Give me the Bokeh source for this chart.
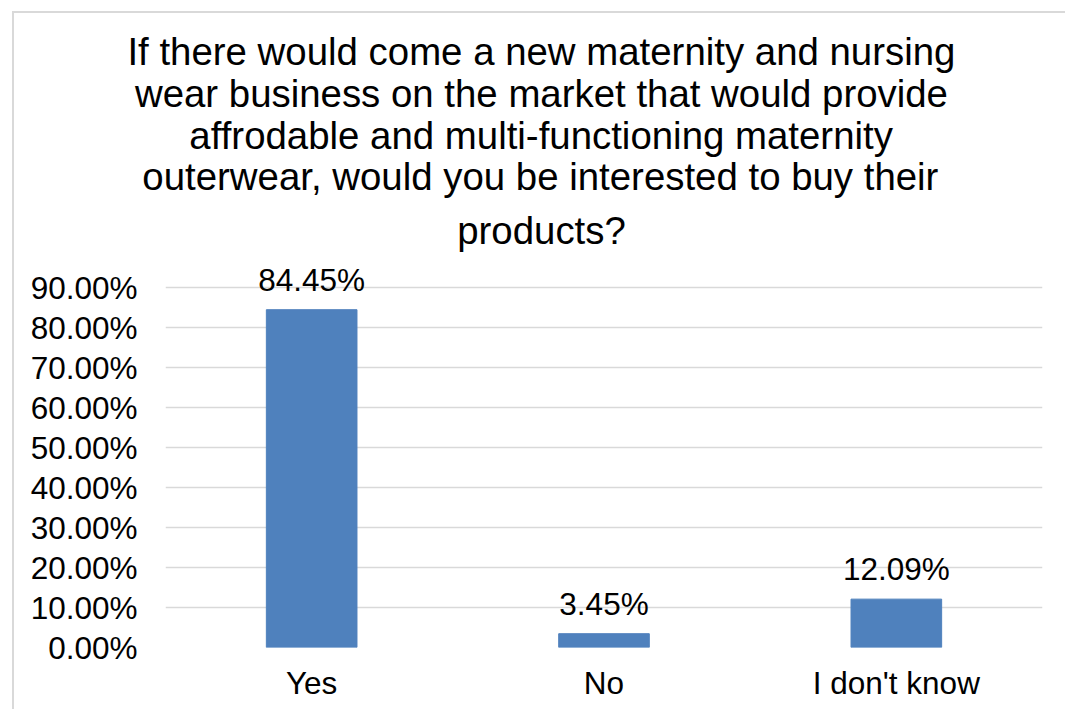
from bokeh.plotting import figure
from bokeh.models import ColumnDataSource, FactorRange, Range1d, FixedTicker, NumeralTickFormatter, Label, Title
from bokeh.embed import file_html
from bokeh.resources import INLINE

categories = ["Yes", "No", "I don't know"]
values = [0.8445, 0.0345, 0.1209]
labels = ["84.45%", "3.45%", "12.09%"]
y_ticks = [0.0, 0.1, 0.2, 0.3, 0.4, 0.5, 0.6, 0.7, 0.8, 0.9]
title_lines = ["If there would come a new maternity and nursing",
               "wear business on the market that would provide",
               "affrodable and multi-functioning maternity",
               "outerwear, would you be interested to buy their",
               "products?"]

FONT = "Liberation Sans"
TITLE_PX = 38.4
TICK_PX = "31.5px"

# Liberation Sans / Arial advance widths (1/1000 em) used to centre each title line
_W = dict(zip(" abcdefghijklmnopqrstuvwxyz", [278, 556, 556, 500, 556, 556, 278, 556, 556, 222, 222, 500, 222,
                                               833, 556, 556, 556, 556, 333, 500, 278, 556, 500, 722, 500, 500, 500]))
_W.update({"I": 278, ",": 278, "-": 333, "?": 556, ".": 278, "'": 191})


def text_width(s, px):
    return sum(_W.get(ch, 556) for ch in s) / 1000.0 * px


# page geometry (canvas origin after margin + border)
ORIGIN_X, ORIGIN_Y = 14, 13
W, H = 1053, 698
FRAME_L, FRAME_R, FRAME_B = 165, 1042, 647
PX_PER_UNIT = 400.0
Y_TOP = 0.96
frame_top = FRAME_B - Y_TOP * PX_PER_UNIT
title_center = 541
title_standoffs = [24, -6, -3, -3, -3]   # from the line nearest the frame outward

src = ColumnDataSource(dict(cat=categories, val=values))

p = figure(x_range=FactorRange(*categories, range_padding=0),
           y_range=Range1d(0, Y_TOP),
           width=W, height=H,
           output_backend="svg", toolbar_location=None,
           min_border_left=FRAME_L - ORIGIN_X,
           min_border_right=W - (FRAME_R - ORIGIN_X),
           min_border_top=int(round(frame_top - ORIGIN_Y)),
           min_border_bottom=H - (FRAME_B - ORIGIN_Y),
           margin=(11, 0, 0, 12),
           styles={"border-left": "2px solid #d9d9d9", "border-top": "2px solid #d9d9d9"})
p.title = None

p.vbar(x="cat", top="val", width=0.31, source=src,
       fill_color="#4f81bd", line_color="#4f81bd", line_width=1)

# data labels: x in the categorical scale's synthetic coordinates (factor centre = index + 0.5)
for i, (v, t) in enumerate(zip(values, labels)):
    p.add_layout(Label(x=i + 0.5, y=v, text=t, y_offset=30,
                       text_align="center", text_baseline="alphabetic",
                       text_font=FONT, text_font_size=TICK_PX, text_color="#000000"))

# title: one Title per line, stacked outward from the frame (last line first)
for k, line in enumerate(reversed(title_lines)):
    off = (title_center - FRAME_L) - text_width(line, TITLE_PX) / 2
    t = Title(text=line, align="left", offset=off,
              standoff=title_standoffs[k],
              text_font=FONT, text_font_size=f"{TITLE_PX}px",
              text_font_style="normal", text_color="#000000")
    p.add_layout(t, "above")

p.outline_line_color = None
p.background_fill_color = "white"
p.border_fill_color = "white"

p.xgrid.grid_line_color = None
p.ygrid.grid_line_color = "#d9d9d9"
p.ygrid.grid_line_width = 1.5
p.ygrid.ticker = FixedTicker(ticks=y_ticks)

p.yaxis.ticker = FixedTicker(ticks=y_ticks)
p.yaxis.formatter = NumeralTickFormatter(format="0.00%")
p.yaxis.axis_line_color = None
p.yaxis.major_tick_line_color = None
p.yaxis.minor_tick_line_color = None
p.yaxis.major_label_standoff = 22
p.yaxis.major_label_text_font = FONT
p.yaxis.major_label_text_font_size = TICK_PX
p.yaxis.major_label_text_color = "#000000"

p.xaxis.axis_line_color = None
p.xaxis.major_tick_line_color = None
p.xaxis.minor_tick_line_color = None
p.xaxis.major_label_standoff = 11
p.xaxis.major_label_text_font = FONT
p.xaxis.major_label_text_font_size = TICK_PX
p.xaxis.major_label_text_color = "#000000"

open("out.html", "w").write(file_html(p, INLINE))
